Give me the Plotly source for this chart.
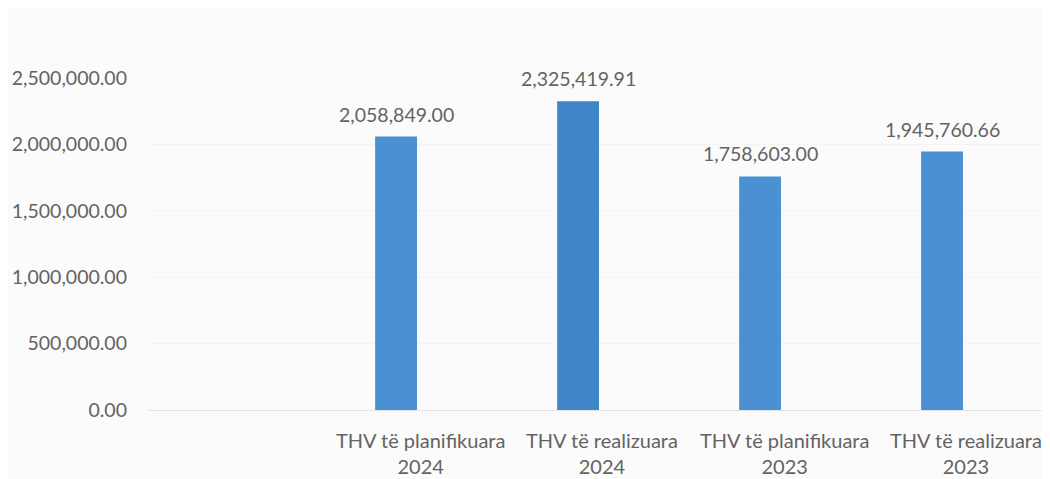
import plotly.graph_objects as go

categories = ["THV të planifikuara<br>2024", "THV të realizuara<br>2024",
              "THV të planifikuara<br>2023", "THV të realizuara<br>2023"]
values = [2058849.00, 2325419.91, 1758603.00, 1945760.66]
value_labels = ["2,058,849.00", "2,325,419.91", "1,758,603.00", "1,945,760.66"]
y_ticks = [0, 500000, 1000000, 1500000, 2000000, 2500000]

bar_colors = ["#4A90D2", "#3F85C8", "#4A90D2", "#4A90D2"]
font_color = "#636363"
font_family = "Lato, 'Open Sans', sans-serif"

fig = go.Figure(go.Bar(
    x=categories,
    y=values,
    marker=dict(color=bar_colors, line=dict(width=0)),
    width=0.23,
    cliponaxis=False,
    hoverinfo="skip",
))

# value labels above the bars
for cat, val, lab in zip(categories, values, value_labels):
    fig.add_annotation(
        x=cat, y=val, xref="x", yref="y", text=lab, showarrow=False,
        yanchor="bottom", yshift=9,
        font=dict(size=19.5, color=font_color, family=font_family),
    )

# category labels (offset to the right of the bars, as in the source)
for cat in categories:
    fig.add_annotation(
        x=cat, y=0, xref="x", yref="paper", text=cat, showarrow=False,
        yanchor="top", yshift=-16, xshift=24,
        font=dict(size=20, color=font_color, family=font_family),
    )

# page body has an 8px margin, so the figure is offset by 8px
fig.update_layout(
    width=1042, height=471,
    margin=dict(l=140, r=2, t=70, b=69),
    paper_bgcolor="#fbfbfb",
    plot_bgcolor="#fbfbfb",
    showlegend=False,
    font=dict(family=font_family, size=19.5, color=font_color),
    xaxis=dict(
        type="category",
        range=[-1.363, 3.582],
        showgrid=False,
        showline=True,
        linecolor="#e3e3e3",
        linewidth=1,
        ticks="",
        showticklabels=False,
        fixedrange=True,
    ),
    yaxis=dict(
        range=[0, 2500000],
        tickvals=y_ticks,
        tickformat=",.2f",
        showgrid=True,
        gridcolor="#f4f4f4",
        zeroline=False,
        showline=False,
        ticks="",
        ticklabelstandoff=20,
        tickfont=dict(size=19.5, color=font_color),
        fixedrange=True,
    ),
)

fig.write_html("out.html")
